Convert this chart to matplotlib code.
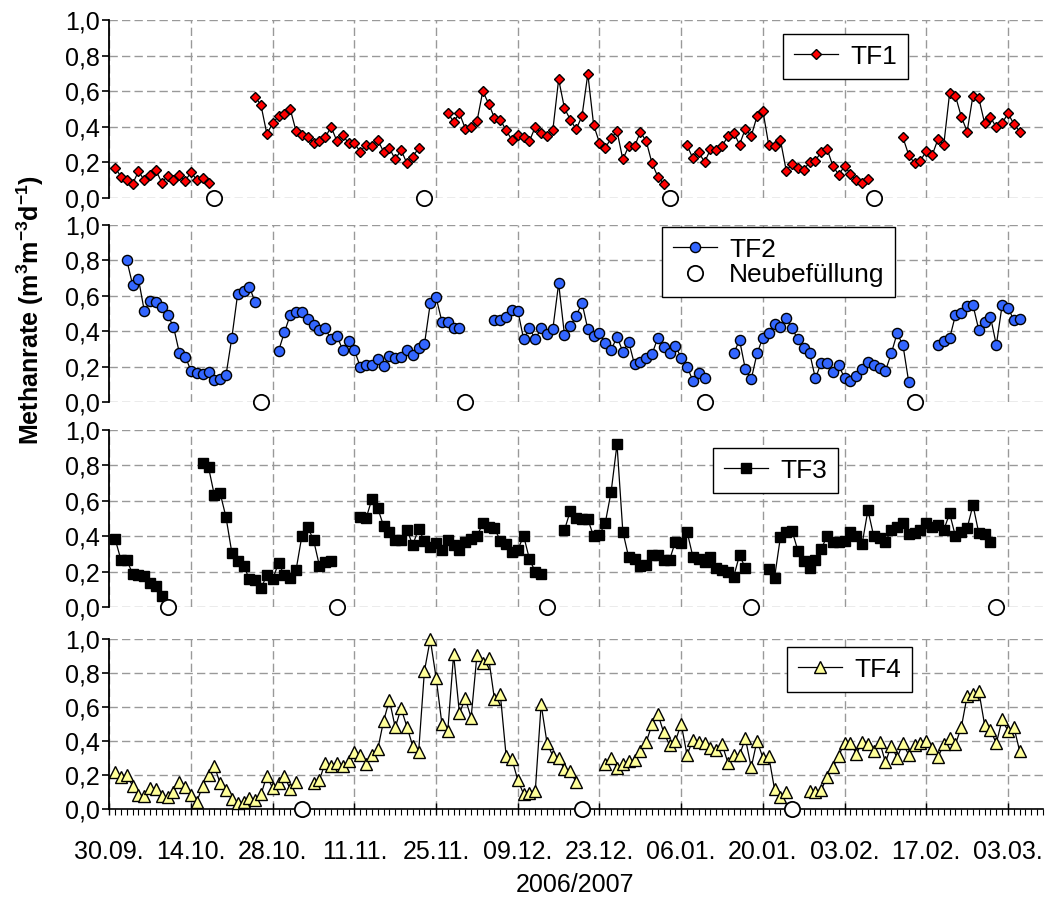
import numpy as np
import pandas as pd
import matplotlib
matplotlib.use("Agg")
import matplotlib.pyplot as plt
import matplotlib.dates as mdates
from matplotlib.lines import Line2D

plt.rcParams['font.family'] = ['Liberation Sans', 'DejaVu Sans']
plt.rcParams['mathtext.fontset'] = 'custom'
plt.rcParams['mathtext.rm'] = 'Liberation Sans'
plt.rcParams['mathtext.bf'] = 'Liberation Sans:bold'

# day offsets from 30.09.2006, each segment is a run of daily values
START = pd.Timestamp('2006-09-30')

tf1_start = [1, 25, 58, 99, 136]
tf1_values = [
    [0.17, 0.12, 0.10, 0.08, 0.15, 0.10, 0.13, 0.155, 0.086, 0.125, 0.10, 0.13, 0.095, 0.146, 0.10, 0.114, 0.086],
    [0.57, 0.52, 0.36, 0.42, 0.46, 0.47, 0.50, 0.376, 0.354, 0.345, 0.31, 0.32, 0.34, 0.40, 0.32, 0.354, 0.307,
     0.307, 0.26, 0.30, 0.29, 0.326, 0.26, 0.28, 0.217, 0.27, 0.195, 0.232, 0.28],
    [0.48, 0.427, 0.476, 0.39, 0.40, 0.43, 0.60, 0.53, 0.45, 0.44, 0.38, 0.326, 0.354, 0.345, 0.32, 0.40, 0.363,
     0.35, 0.38, 0.667, 0.504, 0.44, 0.386, 0.46, 0.697, 0.41, 0.31, 0.283, 0.335, 0.376, 0.217, 0.29, 0.29,
     0.37, 0.32, 0.195, 0.12, 0.08],
    [0.296, 0.223, 0.26, 0.20, 0.273, 0.27, 0.29, 0.348, 0.367, 0.30, 0.39, 0.348, 0.46, 0.49, 0.298, 0.29,
     0.326, 0.154, 0.19, 0.167, 0.16, 0.20, 0.21, 0.26, 0.275, 0.18, 0.13, 0.18, 0.135, 0.10, 0.082, 0.105],
    [0.34, 0.24, 0.195, 0.21, 0.264, 0.24, 0.33, 0.30, 0.59, 0.573, 0.457, 0.373, 0.575, 0.56, 0.42, 0.453,
     0.397, 0.42, 0.476, 0.416, 0.373],
]
tf1_refill = [18, 54, 96, 131]

tf2_start = [3, 29, 66, 107, 142]
tf2_values = [
    [0.80, 0.66, 0.694, 0.513, 0.57, 0.562, 0.538, 0.49, 0.425, 0.278, 0.256, 0.177, 0.162, 0.158, 0.167,
     0.124, 0.13, 0.152, 0.363, 0.61, 0.626, 0.65, 0.562],
    [0.288, 0.393, 0.49, 0.506, 0.506, 0.468, 0.434, 0.406, 0.415, 0.353, 0.374, 0.293, 0.346, 0.293, 0.199,
     0.209, 0.209, 0.242, 0.205, 0.259, 0.25, 0.256, 0.293, 0.265, 0.306, 0.325, 0.556, 0.59, 0.453, 0.449,
     0.419, 0.419],
    [0.462, 0.462, 0.481, 0.519, 0.515, 0.355, 0.415, 0.355, 0.415, 0.382, 0.41, 0.669, 0.378, 0.429, 0.485,
     0.56, 0.41, 0.374, 0.39, 0.33, 0.293, 0.368, 0.284, 0.34, 0.212, 0.227, 0.246, 0.269, 0.363, 0.312,
     0.278, 0.316, 0.25, 0.20, 0.12, 0.162, 0.133],
    [0.274, 0.35, 0.184, 0.128, 0.274, 0.363, 0.387, 0.44, 0.425, 0.472, 0.415, 0.353, 0.306, 0.278, 0.133,
     0.222, 0.222, 0.171, 0.209, 0.133, 0.118, 0.148, 0.184, 0.227, 0.209, 0.19, 0.175, 0.274, 0.387, 0.321,
     0.111],
    [0.321, 0.346, 0.359, 0.49, 0.50, 0.541, 0.547, 0.406, 0.449, 0.481, 0.321, 0.547, 0.532, 0.462, 0.468],
]
tf2_refill = [26, 61, 102, 138]

tf3_start = [1, 16, 43, 78, 113]
tf3_values = [
    [0.385, 0.267, 0.267, 0.188, 0.182, 0.177, 0.135, 0.122, 0.066],
    [0.816, 0.79, 0.633, 0.643, 0.508, 0.308, 0.261, 0.235, 0.16, 0.154, 0.107, 0.182, 0.16, 0.248, 0.182,
     0.164, 0.21, 0.402, 0.451, 0.38, 0.235, 0.258, 0.261],
    [0.508, 0.502, 0.61, 0.559, 0.459, 0.427, 0.38, 0.38, 0.436, 0.352, 0.442, 0.374, 0.342, 0.361, 0.324,
     0.38, 0.352, 0.324, 0.371, 0.384, 0.40, 0.474, 0.455, 0.446, 0.376, 0.356, 0.314, 0.324, 0.403, 0.271,
     0.20, 0.186],
    [0.436, 0.544, 0.502, 0.497, 0.497, 0.40, 0.408, 0.478, 0.653, 0.92, 0.427, 0.282, 0.273, 0.235, 0.239,
     0.295, 0.295, 0.267, 0.267, 0.37, 0.361, 0.427, 0.286, 0.273, 0.258, 0.286, 0.22, 0.211, 0.20, 0.173,
     0.295, 0.22],
    [0.215, 0.168, 0.395, 0.423, 0.431, 0.32, 0.26, 0.22, 0.267, 0.33, 0.40, 0.371, 0.371, 0.376, 0.423, 0.40,
     0.356, 0.549, 0.40, 0.393, 0.371, 0.436, 0.455, 0.474, 0.414, 0.418, 0.436, 0.474, 0.455, 0.465, 0.436,
     0.53, 0.40, 0.427, 0.446, 0.577, 0.418, 0.414, 0.367],
]
tf3_refill = [10, 39, 75, 110, 152]

tf4_start = [1, 35, 85, 120]
tf4_values = [
    [0.214, 0.188, 0.196, 0.135, 0.08, 0.075, 0.12, 0.116, 0.075, 0.067, 0.10, 0.155, 0.125, 0.08, 0.041,
     0.135, 0.198, 0.251, 0.149, 0.11, 0.057, 0.031, 0.041, 0.061, 0.051, 0.084, 0.194, 0.12, 0.149, 0.194,
     0.114, 0.155],
    [0.149, 0.169, 0.27, 0.253, 0.267, 0.251, 0.28, 0.335, 0.316, 0.263, 0.316, 0.349, 0.516, 0.639, 0.478,
     0.59, 0.482, 0.369, 0.331, 0.81, 0.996, 0.771, 0.498, 0.457, 0.908, 0.561, 0.649, 0.535, 0.904, 0.855,
     0.888, 0.645, 0.675, 0.31, 0.29, 0.169, 0.086, 0.09, 0.106, 0.614, 0.388, 0.31, 0.296, 0.231, 0.222,
     0.155],
    [0.263, 0.296, 0.241, 0.263, 0.282, 0.286, 0.341, 0.39, 0.496, 0.557, 0.449, 0.375, 0.398, 0.498, 0.316,
     0.404, 0.394, 0.384, 0.355, 0.345, 0.38, 0.271, 0.316, 0.316, 0.414, 0.243, 0.40, 0.30, 0.31, 0.114,
     0.071, 0.10],
    [0.106, 0.10, 0.11, 0.188, 0.243, 0.312, 0.388, 0.388, 0.322, 0.39, 0.38, 0.339, 0.394, 0.273, 0.371, 0.30,
     0.384, 0.316, 0.375, 0.388, 0.40, 0.359, 0.302, 0.38, 0.414, 0.38, 0.478, 0.663, 0.675, 0.692, 0.492,
     0.463, 0.384, 0.525, 0.457, 0.482, 0.339],
]
tf4_refill = [33, 81, 117]

N_DAYS = 160
tick_dates = pd.date_range('2006-09-30', periods=12, freq='14D')


def daily(starts, values):
    s = pd.Series(np.nan, index=pd.date_range(START, periods=N_DAYS, freq='D'))
    for st, vals in zip(starts, values):
        s.iloc[st:st + len(vals)] = vals
    return s


series = [
    ('TF1', daily(tf1_start, tf1_values), tf1_refill, dict(marker='D', ms=5.6, mfc='#ff0000')),
    ('TF2', daily(tf2_start, tf2_values), tf2_refill, dict(marker='o', ms=7.3, mfc='#3366ff')),
    ('TF3', daily(tf3_start, tf3_values), tf3_refill, dict(marker='s', ms=7.0, mfc='black')),
    ('TF4', daily(tf4_start, tf4_values), tf4_refill, dict(marker='^', ms=8.0, mfc='#ffff99')),
]

W, H = 1045, 897
fig = plt.figure(figsize=(W / 100, H / 100), dpi=100)
x0, x1 = 109.3, 1043
panels = [(20, 198), (224.7, 402), (430, 607.3), (638.7, 808.7)]
legend_pos = [(783, 34), (662, 227), (713, 448), (787, 647)]

for i, ((name, s, refill, st), (top, bot), (lx, ly)) in enumerate(zip(series, panels, legend_pos)):
    ax = fig.add_axes([x0 / W, 1 - bot / H, (x1 - x0) / W, (bot - top) / H])
    ax.set_axisbelow(True)
    ax.plot(s.index, s.values, color='black', lw=0.9, mec='black', mew=1.0, clip_on=False,
            label=name, zorder=3, **st)
    rd = [START + pd.Timedelta(days=d) for d in refill]
    ax.plot(rd, [0] * len(rd), ls='none', marker='o', ms=11, mfc='white', mec='black', mew=1.3,
            clip_on=False, zorder=4, label='Neubefüllung')

    ax.set_xlim(START, START + pd.Timedelta(days=N_DAYS))
    ax.set_ylim(0, 1.0)
    ax.set_yticks(np.arange(0, 1.01, 0.2))
    ax.set_yticklabels([f'{v:.1f}'.replace('.', ',') for v in np.arange(0, 1.01, 0.2)])
    ax.xaxis.set_major_locator(matplotlib.ticker.FixedLocator(mdates.date2num(tick_dates)))
    ax.xaxis.set_minor_locator(mdates.DayLocator())
    ax.xaxis.set_major_formatter(mdates.DateFormatter('%d.%m.'))
    ax.grid(True, which='major', color='#999999', linestyle=(0, (6, 3)), linewidth=1.0)
    ax.tick_params(axis='y', which='major', direction='out', length=5, width=1.2, labelsize=18, pad=2)
    for sp in ['top', 'right']:
        ax.spines[sp].set_visible(False)
    ax.spines['left'].set_linewidth(1.3)
    if i < 3:
        ax.spines['bottom'].set_visible(False)
        ax.tick_params(axis='x', which='both', bottom=False, labelbottom=False)
    else:
        ax.spines['bottom'].set_linewidth(1.2)
        ax.tick_params(axis='x', which='major', direction='inout', length=9, width=1.0,
                       labelsize=18, pad=18)
        ax.tick_params(axis='x', which='minor', direction='out', length=4, width=0.8)

    h = Line2D([], [], color='black', lw=0.9, mec='black', mew=1.0, **st)
    handles, labels = [h], [name]
    if i == 1:
        handles.append(Line2D([], [], ls='none', marker='o', ms=11, mfc='white', mec='black', mew=1.3))
        labels.append('Neubefüllung')
    leg = ax.legend(handles, labels, loc='upper left', bbox_to_anchor=((lx - x0) / (x1 - x0), (bot - ly) / (bot - top)),
                    bbox_transform=ax.transAxes, borderaxespad=0, fontsize=19, frameon=True, fancybox=False,
                    edgecolor='black', framealpha=1, handlelength=1.7, handletextpad=0.45, borderpad=0.4,
                    labelspacing=0.05)
    leg.get_frame().set_linewidth(1.0)
    leg.set_zorder(10)

fig.text(30 / W, 1 - 310 / H, r'Methanrate (m$^{\mathbf{3}}$m$^{\mathbf{-3}}$d$^{\mathbf{-1}}$)',
         rotation=90, ha='center', va='center', fontsize=18, fontweight='bold')
fig.text(575 / W, 1 - 885 / H, '2006/2007', ha='center', va='center', fontsize=18)

fig.savefig('out.png', dpi=100)
